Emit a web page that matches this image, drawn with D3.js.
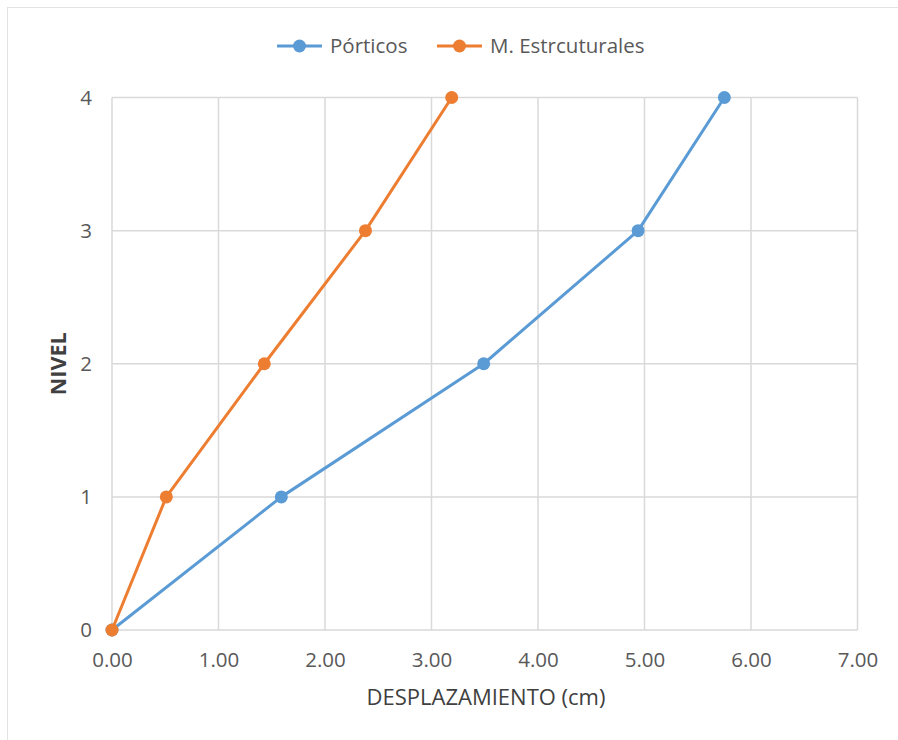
<!DOCTYPE html>
<html><head><meta charset="utf-8">
<script src="https://cdn.jsdelivr.net/npm/d3@7"></script>
<style>body{margin:0;background:#fff;}svg{display:block;}</style>
</head><body>
<svg id="c" width="898" height="740"></svg>
<script>
const levels = [0, 1, 2, 3, 4];
const porticos = [0.00, 1.59, 3.49, 4.94, 5.75];
const muros = [0.00, 0.51, 1.43, 2.38, 3.19];
const seriesNames = ["Pórticos", "M. Estrcuturales"];
const colors = ["#5B9BD5", "#ED7D31"];
const xTicks = [0, 1, 2, 3, 4, 5, 6, 7];
const yTicks = [0, 1, 2, 3, 4];

const svg = d3.select("#c");
const font = "'Open Sans', sans-serif";
svg.append("rect").attr("x", 7.5).attr("y", 7.5).attr("width", 892).attr("height", 740)
  .attr("fill", "#fff").attr("stroke", "#e3e3e3");

const x = d3.scaleLinear().domain([0, 7]).range([112, 857.5]);
const y = d3.scaleLinear().domain([0, 4]).range([630, 97.5]);

// grid
svg.append("g").selectAll("line").data(xTicks).join("line")
  .attr("x1", d => x(d)).attr("x2", d => x(d)).attr("y1", y(0)).attr("y2", y(4))
  .attr("stroke", "#d9d9d9").attr("stroke-width", 1.5);
svg.append("g").selectAll("line").data(yTicks).join("line")
  .attr("x1", x(0)).attr("x2", x(7)).attr("y1", d => y(d)).attr("y2", d => y(d))
  .attr("stroke", "#d9d9d9").attr("stroke-width", 1.5);

// axes via d3
const xAxis = svg.append("g").attr("transform", `translate(0,${y(0)})`)
  .call(d3.axisBottom(x).tickValues(xTicks).tickFormat(d3.format(".2f")).tickSize(0).tickPadding(22));
xAxis.select(".domain").remove();
xAxis.selectAll("text").attr("font-family", font).attr("font-size", 20.5).attr("fill", "#595959");
const yAxis = svg.append("g").attr("transform", `translate(${x(0)},0)`)
  .call(d3.axisLeft(y).tickValues(yTicks).tickFormat(d3.format("d")).tickSize(0).tickPadding(20));
yAxis.select(".domain").remove();
yAxis.selectAll("text").attr("font-family", font).attr("font-size", 20.5).attr("fill", "#595959");

// titles
svg.append("text").attr("x", 486).attr("y", 705).attr("text-anchor", "middle")
  .attr("font-family", font).attr("font-size", 22).attr("fill", "#404040").text("DESPLAZAMIENTO (cm)");
svg.append("text").attr("transform", `translate(66,${y(2)}) rotate(-90)`).attr("text-anchor", "middle")
  .attr("font-family", font).attr("font-size", 21.5).attr("font-weight", "bold").attr("fill", "#404040").text("NIVEL");

// series
const data = [porticos, muros];
const line = d3.line().x(d => x(d[0])).y(d => y(d[1]));
data.forEach((vals, i) => {
  const pts = vals.map((v, j) => [v, levels[j]]);
  svg.append("path").datum(pts).attr("d", line).attr("fill", "none")
    .attr("stroke", colors[i]).attr("stroke-width", 3).attr("stroke-linejoin", "round");
  svg.append("g").selectAll("circle").data(pts).join("circle")
    .attr("cx", d => x(d[0])).attr("cy", d => y(d[1])).attr("r", 6.5).attr("fill", colors[i]);
});

// legend
const legX = [277, 437];
seriesNames.forEach((n, i) => {
  const g = svg.append("g").attr("transform", `translate(${legX[i]},46)`);
  g.append("line").attr("x1", 0).attr("x2", 45).attr("stroke", colors[i]).attr("stroke-width", 3);
  g.append("circle").attr("cx", 22.5).attr("r", 6.5).attr("fill", colors[i]);
  g.append("text").attr("x", 53).attr("y", 7).attr("font-family", font).attr("font-size", 20.5)
    .attr("fill", "#595959").text(n);
});
</script>
</body></html>
